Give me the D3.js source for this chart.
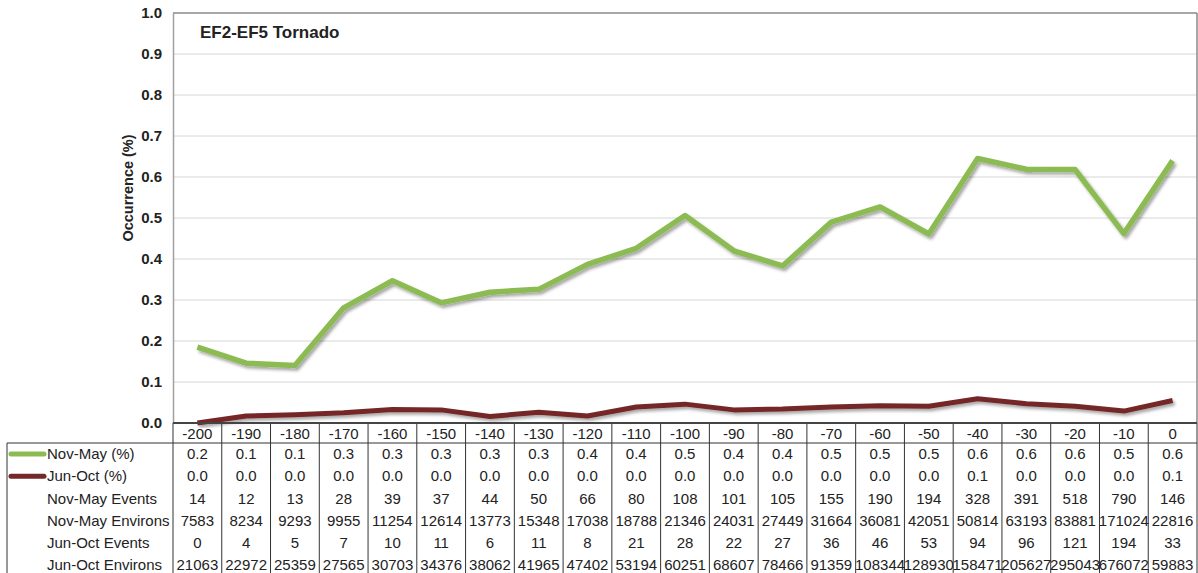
<!DOCTYPE html>
<html>
<head>
<meta charset="utf-8">
<script src="https://cdn.jsdelivr.net/npm/d3@7"></script>
<style>
  html, body { margin: 0; padding: 0; background: #fff; }
  svg { display: block; font-family: "Liberation Sans", Arial, Helvetica, sans-serif; }
</style>
</head>
<body>
<svg id="chart" width="1198" height="573"></svg>
<script>
// ---- data ----
const categories = ["-200","-190","-180","-170","-160","-150","-140","-130","-120","-110","-100","-90","-80","-70","-60","-50","-40","-30","-20","-10","0"];
const novMayPct = [0.185,0.146,0.140,0.281,0.347,0.293,0.319,0.326,0.387,0.426,0.506,0.420,0.383,0.490,0.527,0.461,0.645,0.619,0.618,0.462,0.640];
const junOctPct = [0.000,0.017,0.020,0.025,0.033,0.032,0.016,0.026,0.017,0.039,0.046,0.032,0.034,0.039,0.042,0.041,0.059,0.047,0.041,0.029,0.055];
const novMayPctLabels = ["0.2","0.1","0.1","0.3","0.3","0.3","0.3","0.3","0.4","0.4","0.5","0.4","0.4","0.5","0.5","0.5","0.6","0.6","0.6","0.5","0.6"];
const junOctPctLabels = ["0.0","0.0","0.0","0.0","0.0","0.0","0.0","0.0","0.0","0.0","0.0","0.0","0.0","0.0","0.0","0.0","0.1","0.0","0.0","0.0","0.1"];
const novMayEvents = ["14","12","13","28","39","37","44","50","66","80","108","101","105","155","190","194","328","391","518","790","146"];
const novMayEnvirons = ["7583","8234","9293","9955","11254","12614","13773","15348","17038","18788","21346","24031","27449","31664","36081","42051","50814","63193","83881","171024","22816"];
const junOctEvents = ["0","4","5","7","10","11","6","11","8","21","28","22","27","36","46","53","94","96","121","194","33"];
const junOctEnvirons = ["21063","22972","25359","27565","30703","34376","38062","41965","47402","53194","60251","68607","78466","91359","108344","128930","158471","205627","295043","676072","59883"];
const yTicks = [0,0.1,0.2,0.3,0.4,0.5,0.6,0.7,0.8,0.9,1.0];
const panelLabel = "EF2-EF5 Tornado";
const yTitle = "Occurrence (%)";
const rowLabels = ["Nov-May (%)","Jun-Oct (%)","Nov-May Events","Nov-May Environs","Jun-Oct Events","Jun-Oct Environs"];

(function () {
// ---- layout ----
const svg = d3.select("#chart");
const pLeft = 173, pRight = 1197, pTop = 13, pBottom = 423;
const green = "#8dbb52", red = "#742828";

const x = d3.scaleBand().domain(categories).range([pLeft, pRight]).padding(0);
const xc = d => x(d) + x.bandwidth() / 2;
const y = d3.scaleLinear().domain([0, 1]).range([pBottom, pTop]);

// shadow filter
const defs = svg.append("defs");
const f = defs.append("filter").attr("id", "shadow").attr("x", "-5%").attr("y", "-20%").attr("width", "110%").attr("height", "140%");
f.append("feDropShadow").attr("dx", 2).attr("dy", 2.5).attr("stdDeviation", 1.6).attr("flood-color", "#000").attr("flood-opacity", 0.35);

// gridlines
svg.append("g").selectAll("line").data(yTicks.filter(t => t > 0 && t < 1)).join("line")
  .attr("x1", pLeft).attr("x2", pRight)
  .attr("y1", d => y(d)).attr("y2", d => y(d))
  .attr("stroke", "#d6d6d6").attr("stroke-width", 1);

// frame
svg.append("line").attr("x1", pLeft).attr("x2", pRight).attr("y1", pTop).attr("y2", pTop).attr("stroke", "#8a8a8a").attr("stroke-width", 1.5);
svg.append("line").attr("x1", pRight).attr("x2", pRight).attr("y1", pTop).attr("y2", pBottom).attr("stroke", "#8a8a8a").attr("stroke-width", 1.5);

// y axis
const yAxis = d3.axisLeft(y).tickValues(yTicks).tickFormat(d3.format(".1f")).tickSize(0).tickPadding(11);
const gy = svg.append("g").attr("transform", `translate(${pLeft},0)`).call(yAxis);
gy.select(".domain").attr("stroke", "#a0a0a0").attr("stroke-width", 1.5);
gy.selectAll("text").attr("font-size", 15).attr("font-weight", "bold").attr("fill", "#222")
  .attr("font-family", "'Liberation Sans', Arial, sans-serif");

// y title
svg.append("text").attr("transform", `translate(133,188) rotate(-90)`)
  .attr("text-anchor", "middle").attr("font-size", 14.5).attr("font-weight", "bold").attr("fill", "#222")
  .text(yTitle);

// panel label
svg.append("text").attr("x", 200).attr("y", 38).attr("font-size", 17).attr("font-weight", "bold").attr("fill", "#222").text(panelLabel);

// lines
const line = d3.line().x((d, i) => xc(categories[i])).y(d => y(d));
svg.append("path").datum(junOctPct).attr("d", line).attr("fill", "none")
  .attr("stroke", red).attr("stroke-width", 5).attr("stroke-linejoin", "round").attr("filter", "url(#shadow)");
svg.append("path").datum(novMayPct).attr("d", line).attr("fill", "none")
  .attr("stroke", green).attr("stroke-width", 5.5).attr("stroke-linejoin", "round").attr("filter", "url(#shadow)");

// ---- data table ----
const headerTop = pBottom, headerBottom = 443, rowH = 22.2, tableLeft = 7, tableBottom = 590;
const tg = svg.append("g");
tg.selectAll("line.col").data(categories).join("line").attr("class", "col")
  .attr("x1", d => x(d)).attr("x2", d => x(d))
  .attr("y1", headerTop).attr("y2", tableBottom).attr("stroke", "#333").attr("stroke-width", 1);
tg.append("line").attr("x1", pRight).attr("x2", pRight).attr("y1", headerTop).attr("y2", tableBottom).attr("stroke", "#333");
tg.append("line").attr("x1", tableLeft).attr("x2", tableLeft).attr("y1", headerBottom).attr("y2", tableBottom).attr("stroke", "#333");
tg.append("line").attr("x1", tableLeft).attr("x2", pRight).attr("y1", headerBottom).attr("y2", headerBottom).attr("stroke", "#333");
tg.append("line").attr("x1", pLeft).attr("x2", pRight).attr("y1", headerTop).attr("y2", headerTop).attr("stroke", "#444").attr("stroke-width", 2);

tg.selectAll("text.hdr").data(categories).join("text").attr("class", "hdr")
  .attr("x", d => xc(d)).attr("y", (headerTop + headerBottom) / 2 + 5.5)
  .attr("text-anchor", "middle").attr("font-size", 15).attr("fill", "#222").text(d => d);

const rows = [novMayPctLabels, junOctPctLabels, novMayEvents, novMayEnvirons, junOctEvents, junOctEnvirons];
rows.forEach((vals, r) => {
  const cy = headerBottom + rowH * r + rowH / 2;
  tg.append("text").attr("x", 47).attr("y", cy + 5).attr("font-size", 15).attr("fill", "#222").text(rowLabels[r]);
  tg.selectAll(`text.r${r}`).data(vals).join("text").attr("class", `r${r}`)
    .attr("x", (d, i) => xc(categories[i])).attr("y", cy + 5)
    .attr("text-anchor", "middle").attr("font-size", 15).attr("fill", "#222").text(d => d);
});
[[green, 0], [red, 1]].forEach(([c, r]) => {
  const cy = headerBottom + rowH * r + rowH / 2;
  tg.append("line").attr("x1", 11).attr("x2", 44).attr("y1", cy).attr("y2", cy)
    .attr("stroke", c).attr("stroke-width", 5).attr("stroke-linecap", "round");
});
})();
</script>
</body>
</html>
